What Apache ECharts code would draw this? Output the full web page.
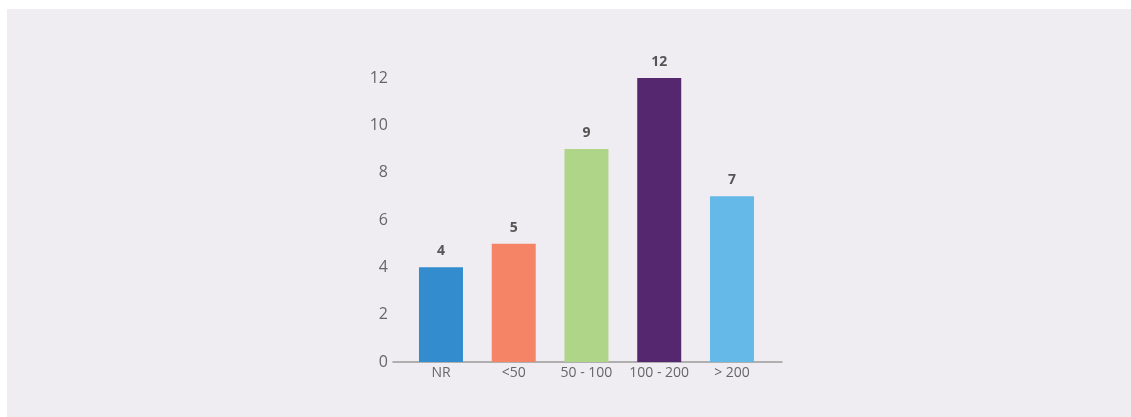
<!DOCTYPE html>
<html>
<head>
<meta charset="utf-8">
<script src="https://cdn.jsdelivr.net/npm/echarts@6/dist/echarts.min.js"></script>
<style>
  html, body { margin: 0; padding: 0; background: #ffffff; width: 1131px; height: 417px; overflow: hidden; }
  #chart { position: absolute; left: 7px; top: 9px; width: 1124px; height: 408px; }
</style>
</head>
<body>
<div id="chart"></div>
<script>
const categories = ['NR', '<50', '50 - 100', '100 - 200', '> 200'];
const values = [4, 5, 9, 12, 7];
const barColors = ['#338ccd', '#f58467', '#afd589', '#54276e', '#64b9e9'];
const yTicks = { min: 0, max: 12, interval: 2 };

const chart = echarts.init(document.getElementById('chart'));
const fontFamily = '"Open Sans", "Noto Sans", sans-serif';
chart.setOption({
  backgroundColor: '#efedf2',
  animation: false,
  grid: [
    { left: 397.6, width: 363.75, top: 69, bottom: 55 },
    { left: 386, width: 389, top: 69, bottom: 55 }
  ],
  xAxis: [
    {
      type: 'category', gridIndex: 0, data: categories,
      axisLine: { show: false }, axisTick: { show: false },
      axisLabel: { color: '#666666', fontSize: 14, fontFamily, margin: 4, interval: 0, hideOverlap: false }
    },
    {
      type: 'value', gridIndex: 1, min: 0, max: 1,
      axisLine: { show: true, lineStyle: { color: '#9a9a9a', width: 1.5 } },
      axisTick: { show: false }, axisLabel: { show: false }, splitLine: { show: false }
    }
  ],
  yAxis: [
    {
      type: 'value', gridIndex: 0, min: yTicks.min, max: yTicks.max, interval: yTicks.interval,
      axisLine: { show: false }, axisTick: { show: false }, axisLabel: { show: false }, splitLine: { show: false }
    },
    {
      type: 'value', gridIndex: 1, min: yTicks.min, max: yTicks.max, interval: yTicks.interval,
      axisLine: { show: false }, axisTick: { show: false }, splitLine: { show: false },
      axisLabel: { color: '#666666', fontSize: 16, fontFamily, margin: 5 }
    }
  ],
  series: [
    {
      type: 'bar', xAxisIndex: 0, yAxisIndex: 0, barWidth: 44,
      data: values.map((v, i) => ({ value: v, itemStyle: { color: barColors[i] } })),
      label: { show: true, position: 'top', distance: 9, color: '#555555', fontSize: 14, fontWeight: 'bold', fontFamily }
    }
  ]
});
</script>
</body>
</html>
